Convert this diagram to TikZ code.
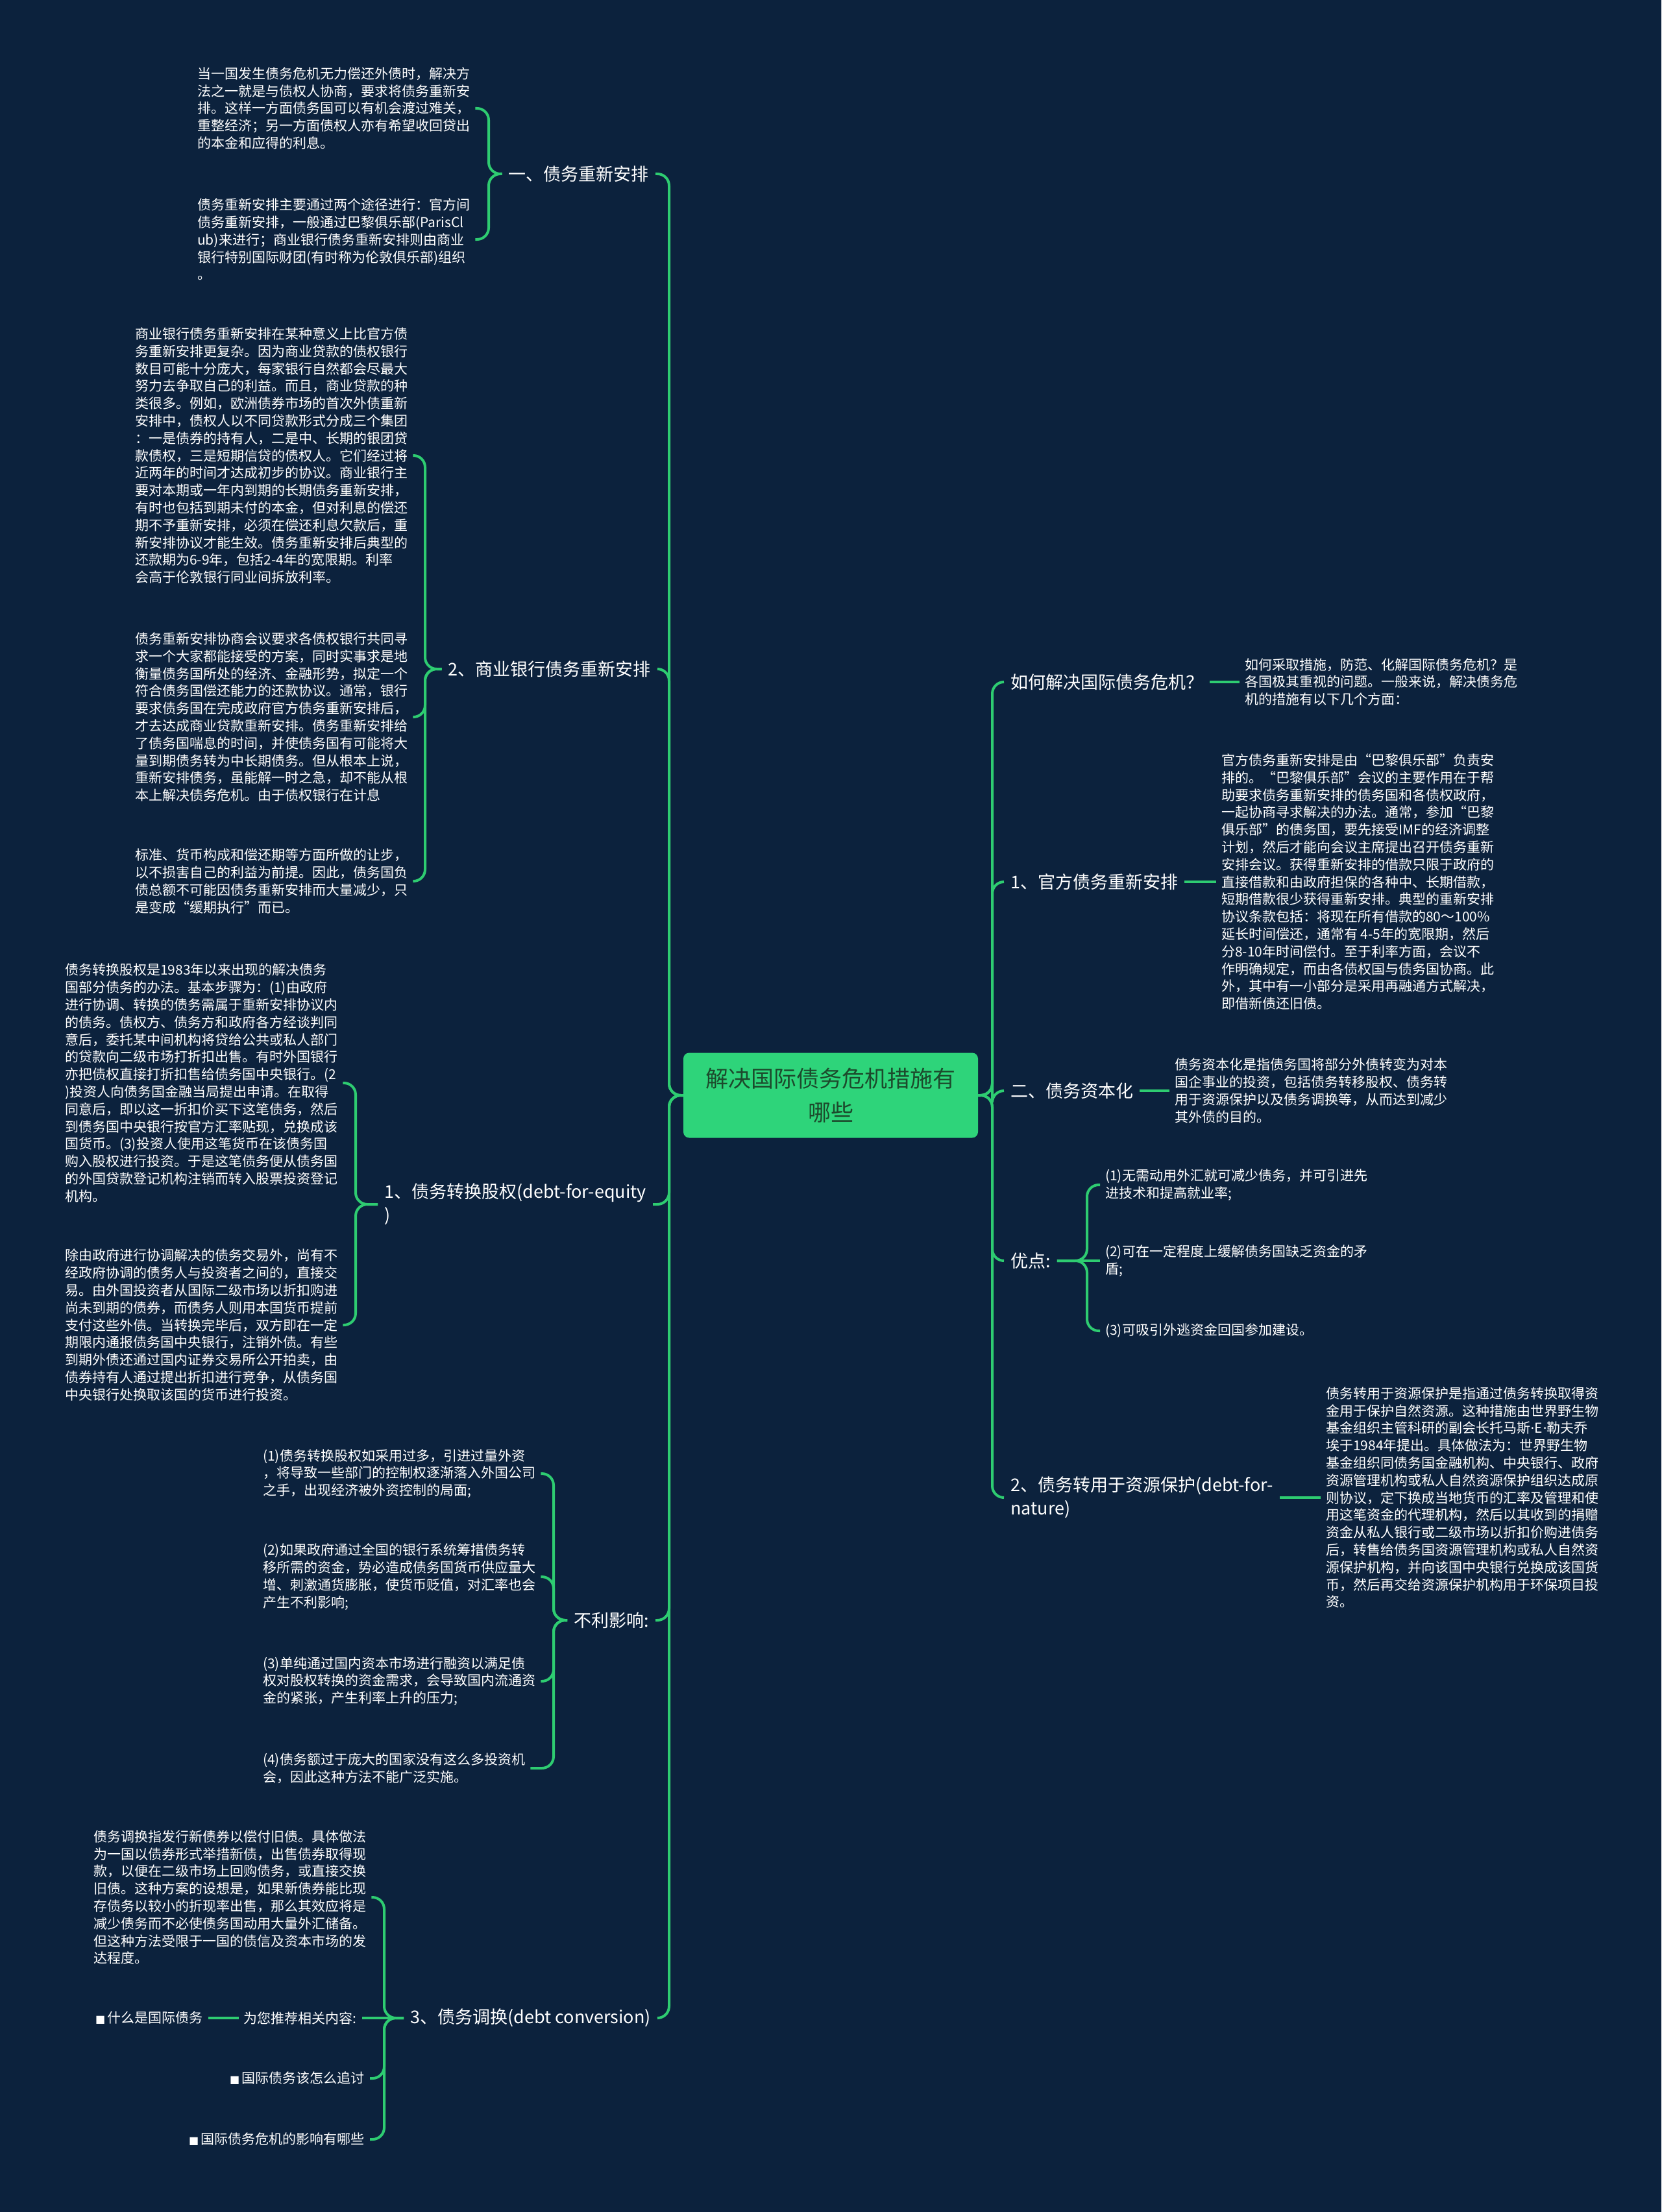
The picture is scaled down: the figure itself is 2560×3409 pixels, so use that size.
\documentclass[tikz,border=0pt]{standalone}
\usepackage{fontspec}
\setmainfont{Noto Sans CJK SC}
\newfontfamily\dejavu{DejaVu Sans}
\definecolor{bg}{HTML}{0C223D}
\definecolor{lk}{HTML}{2ECC71}
\definecolor{cfill}{HTML}{2ED47A}
\definecolor{ctext}{HTML}{1C4A2C}
\newcommand{\bul}{{\dejavu\fontsize{16}{20}\selectfont ■}\,}
\newcommand{\mdot}{{\dejavu ·}}
\tikzset{
  conn/.style={draw=lk, line width=4pt, rounded corners=18pt},
  lbl/.style={text=white, font=\fontsize{27}{36}\selectfont, inner xsep=10pt, inner ysep=2pt, align=left},
  txt/.style={text=white, font=\fontsize{21}{26.8}\selectfont, inner xsep=8pt, inner ysep=2pt, align=left},
  rootbox/.style={fill=cfill, rounded corners=9pt, text=ctext, font=\fontsize{35}{52}\selectfont,
    align=center, minimum width=454pt, minimum height=131pt, inner sep=0pt}
}
\begin{document}
\begin{tikzpicture}[x=1pt,y=-1pt]
\fill[bg] (0,0) rectangle (2560,3409);
\useasboundingbox (0,0) rectangle (2560,3409);

% root
\node[rootbox] (root) at (1280,1688) {解决国际债务危机措施有\\哪些};

% junction coordinates
\coordinate (kL) at (1031,1688);
\coordinate (kR) at (1529,1688);
\coordinate (k1) at (753,268);
\coordinate (k2) at (655,1031);
\coordinate (k3) at (548,1856);
\coordinate (k4) at (853,2497);
\coordinate (k5) at (592,3110);
\coordinate (k6) at (1675,1943);

% ---------- left labels ----------
\node[lbl, anchor=east] (L1) at (1010,268) {一、债务重新安排};
\node[lbl, anchor=east] (L2) at (1013,1031) {2、商业银行债务重新安排};
\node[lbl, anchor=east] (L3) at (1006,1856) {1、债务转换股权(debt-for-equity\\)};
\node[lbl, anchor=east] (L4) at (1010,2497) {不利影响:};
\node[lbl, anchor=east] (L5) at (1013,3110) {3、债务调换(debt conversion)};

% ---------- left details ----------
\node[txt, anchor=west] (B1) at (296,167) {当一国发生债务危机无力偿还外债时，解决方\\法之一就是与债权人协商，要求将债务重新安\\排。这样一方面债务国可以有机会渡过难关，\\重整经济；另一方面债权人亦有希望收回贷出\\的本金和应得的利息。};
\node[txt, anchor=west] (B2) at (296,369) {债务重新安排主要通过两个途径进行：官方间\\债务重新安排，一般通过巴黎俱乐部(ParisCl\\ub)来进行；商业银行债务重新安排则由商业\\银行特别国际财团(有时称为伦敦俱乐部)组织\\。};

\node[txt, anchor=west] (B3) at (200,702) {商业银行债务重新安排在某种意义上比官方债\\务重新安排更复杂。因为商业贷款的债权银行\\数目可能十分庞大，每家银行自然都会尽最大\\努力去争取自己的利益。而且，商业贷款的种\\类很多。例如，欧洲债券市场的首次外债重新\\安排中，债权人以不同贷款形式分成三个集团\\：一是债券的持有人，二是中、长期的银团贷\\款债权，三是短期信贷的债权人。它们经过将\\近两年的时间才达成初步的协议。商业银行主\\要对本期或一年内到期的长期债务重新安排，\\有时也包括到期未付的本金，但对利息的偿还\\期不予重新安排，必须在偿还利息欠款后，重\\新安排协议才能生效。债务重新安排后典型的\\还款期为6-9年，包括2-4年的宽限期。利率\\会高于伦敦银行同业间拆放利率。};
\node[txt, anchor=west] (B4) at (200,1105) {债务重新安排协商会议要求各债权银行共同寻\\求一个大家都能接受的方案，同时实事求是地\\衡量债务国所处的经济、金融形势，拟定一个\\符合债务国偿还能力的还款协议。通常，银行\\要求债务国在完成政府官方债务重新安排后，\\才去达成商业贷款重新安排。债务重新安排给\\了债务国喘息的时间，并使债务国有可能将大\\量到期债务转为中长期债务。但从根本上说，\\重新安排债务，虽能解一时之急，却不能从根\\本上解决债务危机。由于债权银行在计息};
\node[txt, anchor=west] (B5) at (200,1358) {标准、货币构成和偿还期等方面所做的让步，\\以不损害自己的利益为前提。因此，债务国负\\债总额不可能因债务重新安排而大量减少，只\\是变成“缓期执行”而已。};

\node[txt, anchor=west] (B6) at (92,1669) {债务转换股权是1983年以来出现的解决债务\\国部分债务的办法。基本步骤为：(1)由政府\\进行协调、转换的债务需属于重新安排协议内\\的债务。债权方、债务方和政府各方经谈判同\\意后，委托某中间机构将贷给公共或私人部门\\的贷款向二级市场打折扣出售。有时外国银行\\亦把债权直接打折扣售给债务国中央银行。(2\\)投资人向债务国金融当局提出申请。在取得\\同意后，即以这一折扣价买下这笔债务，然后\\到债务国中央银行按官方汇率贴现，兑换成该\\国货币。(3)投资人使用这笔货币在该债务国\\购入股权进行投资。于是这笔债务便从债务国\\的外国贷款登记机构注销而转入股票投资登记\\机构。};
\node[txt, anchor=west] (B7) at (92,2042) {除由政府进行协调解决的债务交易外，尚有不\\经政府协调的债务人与投资者之间的，直接交\\易。由外国投资者从国际二级市场以折扣购进\\尚未到期的债券，而债务人则用本国货币提前\\支付这些外债。当转换完毕后，双方即在一定\\期限内通报债务国中央银行，注销外债。有些\\到期外债还通过国内证券交易所公开拍卖，由\\债券持有人通过提出折扣进行竞争，从债务国\\中央银行处换取该国的货币进行投资。};

\node[txt, anchor=west] (C1) at (397,2271) {(1)债务转换股权如采用过多，引进过量外资\\，将导致一些部门的控制权逐渐落入外国公司\\之手，出现经济被外资控制的局面;};
\node[txt, anchor=west] (C2) at (397,2430) {(2)如果政府通过全国的银行系统筹措债务转\\移所需的资金，势必造成债务国货币供应量大\\增、刺激通货膨胀，使货币贬值，对汇率也会\\产生不利影响;};
\node[txt, anchor=west] (C3) at (397,2591) {(3)单纯通过国内资本市场进行融资以满足债\\权对股权转换的资金需求，会导致国内流通资\\金的紧张，产生利率上升的压力;};
\node[txt, anchor=west] (C4) at (397,2725) {(4)债务额过于庞大的国家没有这么多投资机\\会，因此这种方法不能广泛实施。};

\node[txt, anchor=west] (D1) at (136,2924) {债务调换指发行新债券以偿付旧债。具体做法\\为一国以债券形式举措新债，出售债券取得现\\款，以便在二级市场上回购债务，或直接交换\\旧债。这种方案的设想是，如果新债券能比现\\存债务以较小的折现率出售，那么其效应将是\\减少债务而不必使债务国动用大量外汇储备。\\但这种方法受限于一国的债信及资本市场的发\\达程度。};
\node[txt, anchor=east] (D2) at (558,3110) {为您推荐相关内容:};
\node[txt, anchor=east] (D2b) at (321,3110) {\bul 什么是国际债务};
\node[txt, anchor=east] (D3) at (570,3203) {\bul 国际债务该怎么追讨};
\node[txt, anchor=east] (D4) at (570,3297) {\bul 国际债务危机的影响有哪些};

% ---------- right labels ----------
\node[lbl, anchor=west] (R1) at (1547,1051) {如何解决国际债务危机？};
\node[lbl, anchor=west] (R2) at (1547,1359) {1、官方债务重新安排};
\node[lbl, anchor=west] (R3) at (1547,1681) {二、债务资本化};
\node[lbl, anchor=west] (R4) at (1547,1943) {优点:};
\node[lbl, anchor=west] (R5) at (1547,2308) {2、债务转用于资源保护(debt-for-\\nature)};

% ---------- right details ----------
\node[txt, anchor=west] (E1) at (1910,1051) {如何采取措施，防范、化解国际债务危机？是\\各国极其重视的问题。一般来说，解决债务危\\机的措施有以下几个方面：};
\node[txt, anchor=west] (E2) at (1874,1359) {官方债务重新安排是由“巴黎俱乐部”负责安\\排的。“巴黎俱乐部”会议的主要作用在于帮\\助要求债务重新安排的债务国和各债权政府，\\一起协商寻求解决的办法。通常，参加“巴黎\\俱乐部”的债务国，要先接受IMF的经济调整\\计划，然后才能向会议主席提出召开债务重新\\安排会议。获得重新安排的借款只限于政府的\\直接借款和由政府担保的各种中、长期借款，\\短期借款很少获得重新安排。典型的重新安排\\协议条款包括：将现在所有借款的80～100\%\\延长时间偿还，通常有 4-5年的宽限期，然后\\分8-10年时间偿付。至于利率方面，会议不\\作明确规定，而由各债权国与债务国协商。此\\外，其中有一小部分是采用再融通方式解决，\\即借新债还旧债。};
\node[txt, anchor=west] (E3) at (1802,1681) {债务资本化是指债务国将部分外债转变为对本\\国企事业的投资，包括债务转移股权、债务转\\用于资源保护以及债务调换等，从而达到减少\\其外债的目的。};
\node[txt, anchor=west] (F1) at (1695,1826) {(1)无需动用外汇就可减少债务，并可引进先\\进技术和提高就业率;};
\node[txt, anchor=west] (F2) at (1695,1943) {(2)可在一定程度上缓解债务国缺乏资金的矛\\盾;};
\node[txt, anchor=west] (F3) at (1695,2051) {(3)可吸引外逃资金回国参加建设。};
\node[txt, anchor=west] (E5) at (2035,2308) {债务转用于资源保护是指通过债务转换取得资\\金用于保护自然资源。这种措施由世界野生物\\基金组织主管科研的副会长托马斯\mdot E\mdot 勒夫乔\\埃于1984年提出。具体做法为：世界野生物\\基金组织同债务国金融机构、中央银行、政府\\资源管理机构或私人自然资源保护组织达成原\\则协议，定下换成当地货币的汇率及管理和使\\用这笔资金的代理机构，然后以其收到的捐赠\\资金从私人银行或二级市场以折扣价购进债务\\后，转售给债务国资源管理机构或私人自然资\\源保护机构，并向该国中央银行兑换成该国货\\币，然后再交给资源保护机构用于环保项目投\\资。};

% ---------- connectors ----------
\foreach \n in {L1,L2,L3,L4,L5} \draw[conn] (root.west) -- (kL) |- (\n.east);
\foreach \n in {R1,R2,R3,R4,R5} \draw[conn] (root.east) -- (kR) |- (\n.west);

\foreach \n in {B1,B2} \draw[conn] (L1.west) -- (k1) |- (\n.east);
\foreach \n in {B3,B4,B5} \draw[conn] (L2.west) -- (k2) |- (\n.east);
\foreach \n in {B6,B7} \draw[conn] (L3.west) -- (k3) |- (\n.east);
\foreach \n in {C1,C2,C3,C4} \draw[conn] (L4.west) -- (k4) |- (\n.east);
\foreach \n in {D1,D3,D4} \draw[conn] (L5.west) -- (k5) |- (\n.east);
\draw[conn] (L5.west) -- (D2.east);
\draw[conn] (D2.west) -- (D2b.east);

\draw[conn] (R1.east) -- (E1.west);
\draw[conn] (R2.east) -- (E2.west);
\draw[conn] (R3.east) -- (E3.west);
\foreach \n in {F1,F3} \draw[conn] (R4.east) -- (k6) |- (\n.west);
\draw[conn] (R4.east) -- (F2.west);
\draw[conn] (R5.east) -- (E5.west);
\end{tikzpicture}
\end{document}
